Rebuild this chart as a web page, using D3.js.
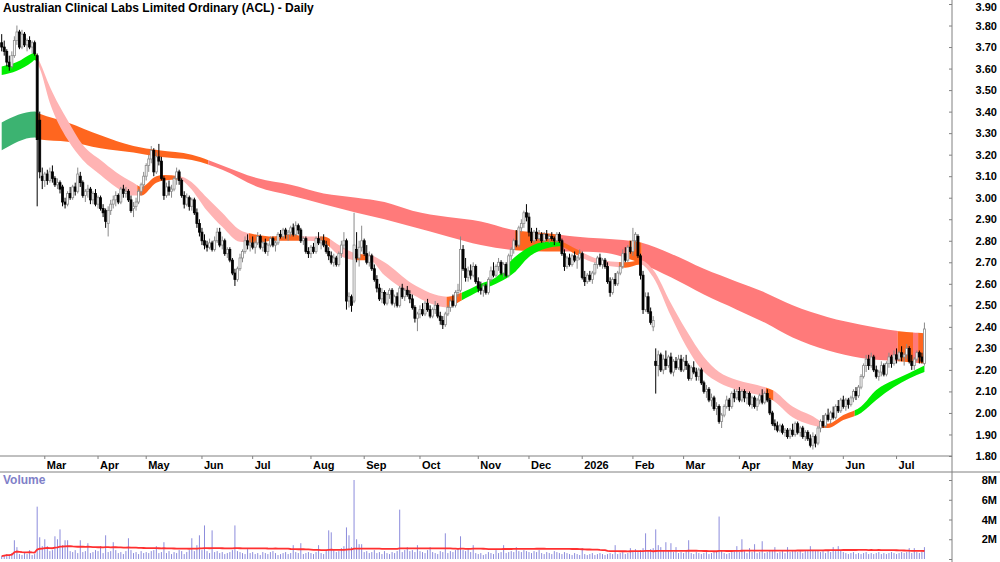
<!doctype html>
<html>
<head>
<meta charset="utf-8">
<script src="https://d3js.org/d3.v7.min.js"></script>
<style>
  body { margin: 0; background: #fff; }
  svg { display: block; font-family: "Liberation Sans Narrow", "Arial Narrow", "Liberation Sans", Arial, sans-serif; font-weight: bold; }
</style>
</head>
<body>
<svg id="chart" width="1000" height="562"></svg>
<script>
var title = "Australian Clinical Labs Limited Ordinary (ACL) - Daily";
var firstDay = "2025-02-06";
var holidays = ["2025-04-18", "2025-04-21", "2025-04-25", "2025-06-09", "2025-12-25", "2025-12-26",
                "2026-01-01", "2026-01-26", "2026-04-03", "2026-04-06", "2026-06-08"];

var opens = [
 3.72,3.70,3.68,3.63,3.61,3.66,3.73,3.77,3.70,3.76,3.71,3.73,3.70,3.72,3.66,3.36,3.10,
 3.08,3.11,3.08,3.12,3.09,3.06,3.07,3.05,2.98,2.97,3.02,3.00,3.05,3.03,3.10,3.07,3.01,3.03,3.04,2.99,3.02,
 2.97,3.00,2.95,2.94,2.88,2.94,2.97,2.99,3.01,2.98,3.04,3.02,3.03,2.99,2.95,2.96,2.98,3.03,3.06,
 3.10,3.15,3.18,3.22,3.12,3.19,3.17,3.09,3.01,3.05,3.03,3.04,3.09,3.12,3.08,3.01,2.97,3.00,2.96,2.99,2.93,2.88,
 2.84,2.80,2.78,2.77,2.79,2.76,2.80,2.84,2.78,2.80,2.74,2.76,2.71,2.65,2.62,2.67,2.72,2.75,2.80,2.78,
 2.79,2.77,2.79,2.82,2.77,2.79,2.75,2.78,2.81,2.78,2.79,2.83,2.82,2.85,2.83,2.84,2.86,2.83,2.87,2.85,2.80,2.81,2.75,
 2.74,2.77,2.75,2.81,2.79,2.80,2.78,2.75,2.73,2.70,2.72,2.69,2.74,2.78,2.80,2.52,2.54,2.52,2.76,2.72,2.77,
 2.80,2.74,2.70,2.73,2.67,2.62,2.58,2.53,2.56,2.51,2.55,2.57,2.51,2.54,2.50,2.58,2.54,2.57,2.55,2.53,2.49,2.44,
 2.46,2.48,2.46,2.51,2.48,2.45,2.48,2.50,2.45,2.43,2.41,2.46,2.49,2.52,2.50,2.56,2.57,2.76,2.67,2.63,2.66,2.64,2.68,
 2.61,2.58,2.57,2.59,2.56,2.62,2.66,2.64,2.68,2.70,2.65,2.69,2.64,2.73,2.76,2.80,2.78,2.86,2.88,2.93,
 2.91,2.84,2.80,2.84,2.81,2.83,2.80,2.83,2.81,2.82,2.81,2.80,2.83,2.80,2.74,2.68,2.72,2.69,2.73,2.71,2.72,
 2.74,2.63,2.61,2.64,2.62,2.65,2.69,2.72,2.69,2.71,2.68,2.61,2.56,2.62,2.60,2.65,2.68,2.74,2.71,2.77,
 2.75,2.80,2.82,2.73,2.64,2.48,2.54,2.47,2.40,2.24,2.22,2.27,2.20,2.25,2.22,2.26,2.19,2.24,2.21,2.25,
 2.20,2.24,2.22,2.16,2.21,2.19,2.17,2.20,2.14,2.10,2.11,2.06,2.07,2.02,2.03,1.96,1.99,2.03,2.06,2.03,2.09,2.07,
 2.10,2.06,2.10,2.07,2.09,2.04,2.07,2.03,2.06,2.08,2.05,2.09,2.06,2.00,1.95,1.94,1.92,1.94,1.91,1.92,
 1.89,1.92,1.90,1.95,1.91,1.93,1.89,1.91,1.88,1.85,1.89,1.86,1.93,1.96,1.94,1.99,1.97,2.00,1.98,2.03,2.01,
 2.06,2.03,2.06,2.04,2.07,2.10,2.08,2.12,2.17,2.22,2.25,2.22,2.26,2.20,2.17,2.19,2.22,2.18,2.23,2.26,2.23,
 2.27,2.25,2.28,2.26,2.27,2.30,2.24,2.22,2.25,2.28,2.26,2.23
];
var highs = [
 3.76,3.73,3.69,3.66,3.68,3.75,3.80,3.78,3.78,3.77,3.74,3.75,3.73,3.73,3.67,3.40,3.14,
 3.12,3.13,3.14,3.15,3.10,3.09,3.08,3.06,3.00,3.03,3.05,3.06,3.07,3.14,3.12,3.08,3.04,3.06,3.05,3.03,3.04,
 3.01,3.01,2.97,2.95,2.96,2.99,3.01,3.03,3.02,3.05,3.06,3.05,3.04,3.01,2.98,3.00,3.04,3.07,3.12,
 3.16,3.20,3.24,3.23,3.21,3.25,3.19,3.10,3.07,3.08,3.06,3.10,3.14,3.13,3.09,3.03,3.02,3.01,3.00,3.00,2.95,2.90,
 2.86,2.83,2.80,2.81,2.80,2.82,2.86,2.86,2.82,2.81,2.77,2.77,2.72,2.67,2.68,2.74,2.76,2.82,2.83,2.81,
 2.82,2.80,2.84,2.83,2.80,2.81,2.79,2.82,2.82,2.80,2.84,2.85,2.86,2.86,2.85,2.87,2.88,2.89,2.88,2.86,2.82,2.82,2.77,
 2.78,2.79,2.82,2.84,2.82,2.83,2.80,2.77,2.75,2.74,2.73,2.75,2.80,2.84,2.81,2.56,2.55,2.93,2.84,2.80,2.87,
 2.81,2.78,2.75,2.74,2.69,2.64,2.60,2.58,2.57,2.56,2.58,2.58,2.55,2.56,2.59,2.60,2.58,2.59,2.57,2.55,2.50,2.47,
 2.50,2.51,2.52,2.53,2.50,2.49,2.52,2.51,2.47,2.45,2.47,2.50,2.53,2.55,2.57,2.60,2.82,2.78,2.72,2.68,2.69,2.70,2.69,
 2.63,2.61,2.60,2.60,2.63,2.68,2.70,2.69,2.72,2.71,2.70,2.70,2.74,2.77,2.81,2.85,2.87,2.90,2.94,2.97,
 2.93,2.86,2.85,2.86,2.85,2.84,2.84,2.85,2.83,2.84,2.82,2.84,2.84,2.81,2.76,2.73,2.74,2.74,2.75,2.73,2.76,
 2.75,2.66,2.65,2.66,2.66,2.70,2.73,2.74,2.72,2.72,2.70,2.63,2.63,2.65,2.66,2.70,2.76,2.77,2.78,2.80,
 2.86,2.84,2.83,2.74,2.66,2.56,2.56,2.49,2.45,2.30,2.29,2.28,2.27,2.29,2.27,2.28,2.25,2.26,2.27,2.27,
 2.26,2.27,2.23,2.22,2.24,2.21,2.21,2.21,2.15,2.13,2.12,2.09,2.08,2.05,2.04,2.00,2.04,2.08,2.07,2.10,2.11,2.11,
 2.12,2.11,2.11,2.10,2.10,2.08,2.08,2.07,2.09,2.11,2.10,2.11,2.07,2.01,1.97,1.96,1.95,1.95,1.93,1.93,
 1.93,1.95,1.96,1.96,1.94,1.94,1.92,1.92,1.90,1.91,1.90,1.94,1.97,1.99,2.00,2.02,2.01,2.03,2.04,2.06,2.07,
 2.08,2.07,2.07,2.08,2.11,2.12,2.13,2.18,2.23,2.27,2.27,2.28,2.27,2.22,2.20,2.24,2.23,2.24,2.28,2.27,2.29,
 2.30,2.29,2.31,2.28,2.32,2.31,2.27,2.26,2.29,2.29,2.28,2.42
];
var lows = [
 3.68,3.66,3.61,3.59,3.60,3.65,3.71,3.69,3.69,3.70,3.68,3.69,3.67,3.66,2.96,3.09,3.04,
 3.05,3.06,3.07,3.07,3.05,3.04,3.02,2.96,2.95,2.96,2.99,2.99,3.01,3.02,3.05,3.00,2.98,3.00,2.97,2.97,2.96,
 2.95,2.94,2.91,2.86,2.82,2.92,2.95,2.96,2.97,2.97,3.00,3.00,2.98,2.93,2.91,2.94,2.97,3.01,3.04,
 3.08,3.12,3.16,3.10,3.11,3.15,3.08,2.99,3.00,3.01,3.00,3.03,3.06,3.06,3.00,2.95,2.96,2.94,2.94,2.92,2.86,2.82,
 2.78,2.76,2.75,2.76,2.75,2.75,2.79,2.77,2.76,2.73,2.72,2.70,2.64,2.59,2.61,2.66,2.70,2.74,2.76,2.75,
 2.76,2.74,2.78,2.76,2.75,2.74,2.73,2.77,2.77,2.75,2.78,2.81,2.81,2.81,2.80,2.82,2.82,2.82,2.83,2.79,2.78,2.74,2.72,
 2.72,2.74,2.74,2.78,2.76,2.77,2.74,2.71,2.69,2.68,2.68,2.68,2.72,2.76,2.48,2.49,2.47,2.51,2.70,2.68,2.75,
 2.73,2.69,2.68,2.66,2.61,2.56,2.52,2.51,2.50,2.50,2.53,2.50,2.49,2.49,2.49,2.53,2.52,2.54,2.51,2.48,2.42,2.38,
 2.44,2.45,2.45,2.47,2.44,2.44,2.46,2.44,2.41,2.39,2.40,2.45,2.47,2.49,2.49,2.54,2.56,2.66,2.61,2.61,2.62,2.63,2.60,
 2.56,2.55,2.54,2.55,2.55,2.61,2.63,2.63,2.66,2.64,2.63,2.63,2.63,2.71,2.74,2.77,2.77,2.84,2.86,2.89,
 2.82,2.79,2.79,2.80,2.80,2.79,2.79,2.80,2.79,2.80,2.78,2.79,2.79,2.73,2.66,2.67,2.68,2.68,2.70,2.67,2.71,
 2.62,2.59,2.60,2.61,2.60,2.64,2.67,2.68,2.67,2.67,2.60,2.54,2.55,2.59,2.59,2.64,2.67,2.70,2.70,2.74,
 2.73,2.76,2.72,2.62,2.46,2.47,2.46,2.41,2.38,2.09,2.17,2.19,2.18,2.20,2.21,2.18,2.17,2.20,2.20,2.19,
 2.19,2.20,2.15,2.15,2.18,2.15,2.15,2.13,2.09,2.07,2.05,2.03,2.01,1.99,1.95,1.93,1.98,2.02,2.01,2.02,2.05,2.06,
 2.05,2.05,2.05,2.04,2.03,2.02,2.02,2.01,2.04,2.04,2.04,2.05,1.99,1.94,1.92,1.91,1.91,1.90,1.89,1.88,
 1.88,1.89,1.89,1.90,1.89,1.88,1.87,1.87,1.84,1.83,1.84,1.85,1.91,1.93,1.93,1.96,1.95,1.97,1.97,2.00,2.00,
 2.02,2.01,2.02,2.03,2.05,2.06,2.07,2.11,2.16,2.19,2.20,2.21,2.19,2.16,2.15,2.17,2.17,2.17,2.21,2.21,2.22,
 2.23,2.24,2.24,2.22,2.25,2.23,2.20,2.20,2.24,2.23,2.23,2.22
];
var closes = [
 3.70,3.68,3.63,3.61,3.66,3.73,3.77,3.70,3.76,3.71,3.73,3.70,3.72,3.67,3.27,3.12,3.08,
 3.11,3.08,3.12,3.09,3.06,3.07,3.04,2.98,2.97,3.02,3.00,3.05,3.03,3.11,3.07,3.01,3.03,3.04,2.99,3.02,2.97,
 3.00,2.95,2.93,2.89,2.94,2.97,2.99,3.01,2.98,3.04,3.02,3.03,2.99,2.94,2.96,2.98,3.03,3.06,3.10,
 3.15,3.18,3.22,3.12,3.19,3.17,3.09,3.01,3.05,3.03,3.04,3.09,3.12,3.08,3.01,2.97,3.00,2.96,2.99,2.93,2.88,2.84,
 2.80,2.78,2.77,2.79,2.76,2.80,2.84,2.78,2.80,2.74,2.76,2.71,2.65,2.62,2.67,2.72,2.75,2.80,2.78,2.79,
 2.77,2.79,2.82,2.77,2.79,2.75,2.78,2.81,2.78,2.79,2.83,2.82,2.85,2.83,2.84,2.86,2.83,2.87,2.85,2.80,2.81,2.75,2.74,
 2.77,2.75,2.81,2.79,2.80,2.78,2.75,2.73,2.70,2.72,2.69,2.74,2.78,2.80,2.52,2.54,2.50,2.78,2.72,2.77,2.80,
 2.74,2.70,2.73,2.67,2.62,2.58,2.53,2.56,2.51,2.55,2.57,2.51,2.54,2.50,2.58,2.54,2.57,2.55,2.53,2.49,2.44,2.46,
 2.48,2.46,2.51,2.48,2.45,2.48,2.50,2.45,2.43,2.41,2.46,2.49,2.52,2.50,2.56,2.57,2.76,2.67,2.63,2.66,2.64,2.68,2.61,
 2.58,2.57,2.59,2.56,2.62,2.66,2.64,2.68,2.70,2.65,2.69,2.64,2.73,2.76,2.80,2.78,2.86,2.88,2.93,2.91,
 2.84,2.80,2.84,2.81,2.83,2.80,2.83,2.81,2.82,2.81,2.80,2.83,2.80,2.74,2.68,2.72,2.69,2.73,2.71,2.72,2.74,
 2.63,2.61,2.64,2.62,2.65,2.69,2.72,2.69,2.71,2.68,2.61,2.56,2.62,2.60,2.65,2.68,2.74,2.71,2.77,2.75,
 2.80,2.83,2.73,2.64,2.48,2.54,2.47,2.42,2.43,2.22,2.27,2.20,2.25,2.22,2.26,2.19,2.24,2.21,2.25,2.20,
 2.24,2.22,2.16,2.21,2.19,2.17,2.20,2.14,2.10,2.11,2.06,2.07,2.02,2.03,1.96,1.99,2.03,2.06,2.03,2.09,2.07,2.10,
 2.06,2.10,2.07,2.09,2.04,2.07,2.03,2.06,2.08,2.05,2.09,2.06,2.00,1.95,1.94,1.92,1.94,1.91,1.92,1.89,
 1.92,1.90,1.95,1.91,1.93,1.89,1.91,1.88,1.85,1.89,1.86,1.93,1.96,1.94,1.99,1.97,2.00,1.98,2.03,2.01,2.06,
 2.03,2.06,2.04,2.07,2.10,2.08,2.12,2.17,2.22,2.25,2.22,2.26,2.20,2.17,2.19,2.22,2.18,2.23,2.26,2.23,2.27,
 2.25,2.28,2.26,2.27,2.30,2.24,2.22,2.25,2.28,2.26,2.24,2.39
];
// millions of shares
var volumes = [
 0.3,0.4,0.5,0.4,0.6,1.9,1.2,0.5,0.4,0.6,0.5,0.9,0.4,0.5,5.3,2.2,1.3,
 2.0,1.3,0.8,0.9,2.3,2.0,3.0,1.4,1.9,1.9,0.8,0.7,0.9,0.6,1.9,0.7,0.8,1.6,0.6,0.7,0.9,
 0.8,1.3,0.6,2.4,0.7,0.8,1.7,0.9,0.6,0.7,0.5,0.8,2.1,0.9,0.6,0.7,0.5,0.8,0.6,
 0.7,0.6,0.8,0.9,1.3,0.6,0.7,1.7,0.6,0.8,0.5,0.7,0.6,0.9,0.8,0.5,0.7,0.9,2.1,0.8,1.4,2.4,
 0.9,3.4,0.8,0.6,2.9,0.7,0.8,0.6,0.7,0.5,0.6,0.7,0.9,3.4,0.8,0.7,0.6,0.5,1.0,0.6,
 0.7,0.5,0.6,0.4,0.7,0.6,0.5,0.7,0.8,0.6,0.4,0.5,0.6,0.7,0.5,0.6,1.4,0.7,0.6,1.6,0.5,0.6,0.7,
 0.6,0.5,0.7,1.4,0.6,0.5,0.8,2.9,2.7,0.9,0.7,0.8,1.1,1.3,3.2,2.4,1.2,8.0,2.0,1.5,1.5,
 0.7,0.8,0.6,0.7,0.9,0.6,0.7,0.5,0.8,0.6,0.5,0.7,0.6,0.8,5.0,0.7,0.9,1.2,0.8,0.9,0.7,1.4,
 0.8,0.7,0.6,0.9,1.2,0.7,0.6,0.5,0.8,0.7,2.6,0.6,0.8,0.7,0.9,1.1,2.3,0.9,0.8,1.0,0.7,1.4,0.6,
 0.5,0.6,0.4,0.5,0.7,0.6,0.5,0.9,0.6,0.7,1.4,0.6,0.7,0.8,0.7,1.2,0.8,0.7,0.9,0.8,
 0.7,0.6,0.8,0.7,0.9,0.6,0.5,0.7,0.6,0.5,0.8,0.7,0.6,0.5,0.7,0.6,0.5,0.4,0.6,0.5,0.4,
 1.1,0.5,0.4,0.5,0.6,0.4,0.5,0.6,0.5,0.4,0.5,0.6,0.5,1.4,0.5,0.6,0.7,0.5,0.6,1.1,
 0.8,1.0,0.7,0.9,1.1,2.6,0.9,1.0,1.1,3.0,1.4,1.2,0.9,1.7,0.8,1.6,0.7,1.2,0.6,0.7,
 0.6,0.8,1.9,0.6,0.5,0.7,0.6,0.5,0.6,0.7,0.5,0.6,0.7,0.8,4.3,0.9,0.6,0.5,0.6,0.7,0.8,1.3,
 0.7,2.0,0.8,0.6,1.1,0.7,1.5,0.6,0.7,1.8,0.6,0.7,0.9,0.8,1.2,0.6,0.7,0.8,0.6,1.2,
 0.7,0.8,0.9,0.7,0.8,0.6,0.9,0.8,1.3,0.9,0.8,0.9,0.7,0.8,0.6,0.9,0.7,1.2,0.8,1.3,0.9,
 0.7,0.6,0.5,0.6,0.7,0.5,0.6,0.5,0.6,0.7,0.5,0.6,0.5,0.6,0.7,0.5,0.6,0.5,0.6,0.7,0.6,
 0.5,0.6,0.7,0.6,0.7,1.1,0.6,1.1,0.7,0.6,0.8,1.2
];

// trend ribbons, edges read at sample days (index into trading days)
var longDays = [0,13,15,26,39,52,62,75,87,101,114,127,140,151,162,176,189,202,215,226,237,251,264,277,290,301,312,326,339,354,364];
var longTop  = [3.35,3.40,3.39,3.35,3.29,3.24,3.22,3.20,3.15,3.09,3.06,3.02,3.00,2.98,2.94,2.91,2.89,2.85,2.835,2.82,2.81,2.795,2.74,2.67,2.61,2.56,2.50,2.445,2.41,2.38,2.37];
var longBot  = [3.22,3.28,3.27,3.26,3.23,3.21,3.19,3.175,3.13,3.05,3.01,2.97,2.93,2.90,2.865,2.82,2.78,2.757,2.75,2.75,2.745,2.70,2.63,2.55,2.48,2.42,2.35,2.29,2.255,2.24,2.23];
var longRunStart = [0,14,82,203,221,248,253,354,360,362];
var longRunColor = ["dkgreen","orange","red","orange","red","orange","red","orange","red","orange"];

var shortDays = [0,6,12,13,15,19,26,32,39,45,52,55,61,64,70,74,81,87,94,101,107,114,120,127,133,140,145,151,162,176,181,189,195,202,208,215,220,226,231,237,246,252,257,264,270,277,283,290,301,304,312,319,326,332,339,345,352,358,364];
var shortTop  = [3.61,3.63,3.67,3.675,3.63,3.515,3.36,3.245,3.175,3.12,3.07,3.05,3.10,3.105,3.10,3.08,3.0,2.93,2.85,2.827,2.82,2.83,2.82,2.82,2.78,2.74,2.735,2.70,2.60,2.54,2.557,2.60,2.63,2.72,2.77,2.795,2.795,2.765,2.735,2.71,2.70,2.71,2.665,2.51,2.385,2.26,2.19,2.153,2.12,2.107,2.03,1.99,1.95,1.99,2.03,2.107,2.153,2.186,2.22];
var shortBot  = [3.57,3.59,3.63,3.64,3.60,3.44,3.27,3.175,3.106,3.05,3.01,3.01,3.07,3.08,3.085,3.05,2.94,2.865,2.795,2.79,2.80,2.80,2.80,2.79,2.734,2.71,2.71,2.64,2.55,2.49,2.52,2.57,2.60,2.65,2.725,2.765,2.775,2.74,2.71,2.69,2.675,2.69,2.63,2.45,2.31,2.19,2.14,2.107,2.075,2.06,1.98,1.945,1.93,1.967,2.0,2.06,2.12,2.16,2.19];
var shortRunStart = [0,14,15,54,71,98,118,126,130,140,145,176,182,221,229,244,252,302,305,324,337];
var shortRunColor = ["green","orange","pink","orange","pink","orange","pink","orange","pink","orange","pink","orange","green","orange","pink","orange","pink","orange","pink","orange","green"];

var priceTicks = d3.range(18, 40).map(function(d) { return d / 10; });
var volumeTicks = [2, 4, 6, 8];

var colors = { dkgreen: "#3cb371", orange: "#ff661f", red: "#ff7a7a", green: "#00ee00", pink: "#ffb3b3" };

// trading days
var parse = d3.timeParse("%Y-%m-%d"), fmt = d3.timeFormat("%Y-%m-%d");
var dates = [];
var day = parse(firstDay);
while (dates.length < closes.length) {
    var wd = day.getDay();
    if (wd != 0 && wd != 6 && holidays.indexOf(fmt(day)) < 0) dates.push(fmt(day));
    day = d3.timeDay.offset(day, 1);
}

var svg = d3.select("#chart");
var axisX = 952, priceBottom = 456, volTop = 472;

var x = d3.scaleBand().domain(dates).range([0.43, 925.7]);
function xc(i) { return x(dates[i]) + x.bandwidth() / 2; }
var y = d3.scaleLinear().domain([1.8, 3.9]).range([priceBottom, 4]);
var yv = d3.scaleLinear().domain([0, 8]).range([559, 480]);

// ribbons
var defs = svg.append("defs");
function ribbon(days, top, bot, runStart, runColor, name) {
    var pts = days.map(function(d, k) { return { i: d, top: top[k], bot: bot[k] }; });
    var area = d3.area()
        .x(function(d) { return xc(d.i); })
        .y0(function(d) { return y(d.bot); })
        .y1(function(d) { return y(d.top); })
        .curve(d3.curveMonotoneX);
    runStart.forEach(function(s, k) {
        var x0 = k == 0 ? 0 : xc(s) - x.bandwidth() / 2;
        var x1 = k == runStart.length - 1 ? xc(days[days.length - 1]) + 1 : xc(runStart[k + 1]) - x.bandwidth() / 2;
        defs.append("clipPath").attr("id", name + k)
            .append("rect").attr("x", x0).attr("y", 0).attr("width", x1 - x0).attr("height", priceBottom);
        svg.append("path")
            .datum(pts)
            .attr("d", area)
            .attr("fill", colors[runColor[k]])
            .attr("clip-path", "url(#" + name + k + ")");
    });
}
ribbon(longDays, longTop, longBot, longRunStart, longRunColor, "lr");
ribbon(shortDays, shortTop, shortBot, shortRunStart, shortRunColor, "sr");

// candles
var idx = d3.range(closes.length);
var candle = svg.append("g").selectAll("g").data(idx).enter().append("g");
candle.append("line")
    .attr("x1", function(i) { return xc(i); })
    .attr("x2", function(i) { return xc(i); })
    .attr("y1", function(i) { return y(highs[i]); })
    .attr("y2", function(i) { return y(lows[i]); })
    .attr("stroke", function(i) { return closes[i] >= opens[i] ? "#8a8a8a" : "#000"; })
    .attr("stroke-width", 1);
candle.append("rect")
    .attr("x", function(i) { return xc(i) - 1; })
    .attr("width", 2)
    .attr("y", function(i) { return y(Math.max(opens[i], closes[i])); })
    .attr("height", function(i) { return Math.max(1, Math.abs(y(opens[i]) - y(closes[i]))); })
    .attr("fill", function(i) { return closes[i] >= opens[i] ? "#fff" : "#000"; })
    .attr("stroke", function(i) { return closes[i] >= opens[i] ? "#8a8a8a" : "#000"; })
    .attr("stroke-width", 0.8);

// volume
svg.append("g").selectAll("line").data(idx).enter().append("line")
    .attr("x1", function(i) { return xc(i); })
    .attr("x2", function(i) { return xc(i); })
    .attr("y1", yv(0))
    .attr("y2", function(i) { return yv(volumes[i]); })
    .attr("stroke", "#8c8cdc")
    .attr("stroke-width", 1);

var volAvg = idx.map(function(i) { return d3.mean(volumes.slice(Math.max(0, i - 99), i + 1)); });
svg.append("path")
    .datum(idx)
    .attr("fill", "none")
    .attr("stroke", "#ff3030")
    .attr("stroke-width", 1.8)
    .attr("d", d3.line().x(function(i) { return xc(i); }).y(function(i) { return yv(volAvg[i]); }));

// frame lines
svg.append("line").attr("x1", 0).attr("x2", axisX).attr("y1", priceBottom).attr("y2", priceBottom).attr("stroke", "#808080");
svg.append("line").attr("x1", 0).attr("x2", 1000).attr("y1", volTop).attr("y2", volTop).attr("stroke", "#808080");
svg.append("line").attr("x1", axisX).attr("x2", axisX).attr("y1", 0).attr("y2", 562).attr("stroke", "#808080");

// month axis
var monthIdx = idx.filter(function(i) { return i > 0 && dates[i].slice(5, 7) != dates[i - 1].slice(5, 7); });
var monthAxis = svg.append("g")
    .attr("transform", "translate(0," + priceBottom + ")")
    .call(d3.axisBottom(x)
        .tickValues(monthIdx.map(function(i) { return dates[i]; }))
        .tickSize(3)
        .tickFormat(function(d) {
            var dt = parse(d);
            return dt.getMonth() == 0 ? d3.timeFormat("%Y")(dt) : d3.timeFormat("%b")(dt);
        }));
monthAxis.select(".domain").remove();
monthAxis.selectAll("line").attr("stroke", "#808080");
monthAxis.selectAll("text")
    .attr("text-anchor", "start").attr("x", 2).attr("y", 13).attr("dy", 0)
    .attr("font-size", "11px").attr("font-family", null).attr("fill", "#000");

// price axis
var priceAxis = svg.append("g")
    .attr("transform", "translate(" + axisX + ",0)")
    .call(d3.axisRight(y).tickValues(priceTicks).tickSize(-3).tickFormat(d3.format(".2f")));
priceAxis.select(".domain").remove();
priceAxis.selectAll("line").attr("stroke", "#808080");
priceAxis.selectAll("text").attr("text-anchor", "end").attr("x", 45)
    .attr("font-size", "11px").attr("font-family", null).attr("fill", "#000")
    .attr("dy", function(d) { return d >= 3.9 ? "0.6em" : "0.32em"; });

var volAxis = svg.append("g")
    .attr("transform", "translate(" + axisX + ",0)")
    .call(d3.axisRight(yv).tickValues([0].concat(volumeTicks)).tickSize(-3)
        .tickFormat(function(d) { return d == 0 ? "" : d + "M"; }));
volAxis.select(".domain").remove();
volAxis.selectAll("line").attr("stroke", "#808080");
volAxis.selectAll("text").attr("text-anchor", "end").attr("x", 45)
    .attr("font-size", "11px").attr("font-family", null).attr("fill", "#000");

// labels
svg.append("text").attr("x", 3).attr("y", 12).attr("font-size", "12px").attr("fill", "#000").text(title);
svg.append("text").attr("x", 3).attr("y", 484).attr("font-size", "12px").attr("fill", "#8080c8").text("Volume");
</script>
</body>
</html>
